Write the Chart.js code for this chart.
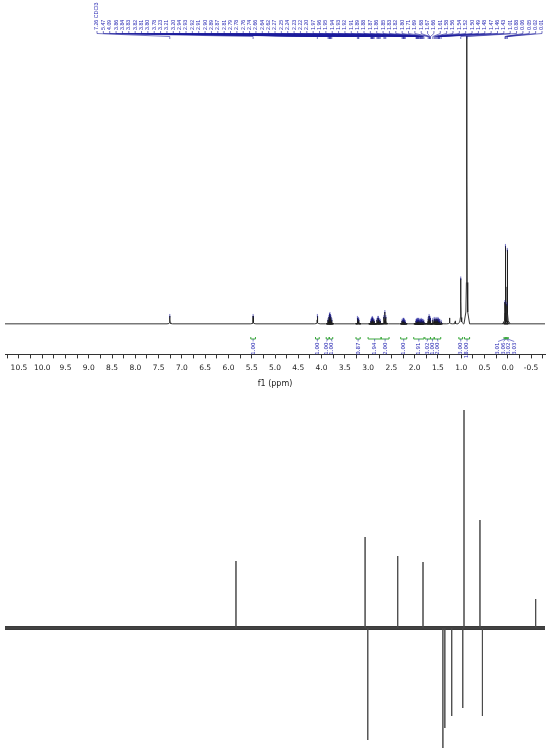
<!DOCTYPE html>
<html>
<head>
<meta charset="utf-8">
<script src="https://cdn.jsdelivr.net/npm/chart.js@4.4.1/dist/chart.umd.min.js"></script>
<style>
  body { margin: 0; background: #fff; }
  #wrap { position: relative; width: 550px; height: 755px; }
  #protonBox { position: absolute; left: 0; top: 0; width: 550px; height: 395px; }
  #carbonBox { position: absolute; left: 0; top: 395px; width: 550px; height: 360px; }
</style>
</head>
<body>
<div id="wrap">
  <div id="protonBox"><canvas id="chartProton"></canvas></div>
  <div id="carbonBox"><canvas id="chartCarbon"></canvas></div>
</div>
<script>
// 1H spectrum: picked peaks (ppm), their label text and height
const hPeakPpm = [7.26, 5.47, 4.09,
  3.86, 3.84, 3.83, 3.82, 3.81, 3.80, 3.78,
  3.23, 3.21, 3.20,
  2.94, 2.93, 2.92, 2.91, 2.90, 2.89, 2.87,
  2.81, 2.79, 2.78, 2.76, 2.74,
  2.66, 2.64, 2.62,
  2.27, 2.25, 2.24, 2.23, 2.22, 2.20,
  1.97, 1.96, 1.95, 1.94, 1.93, 1.92, 1.91, 1.89, 1.88, 1.87, 1.86, 1.85, 1.83, 1.82, 1.80,
  1.71, 1.69, 1.68, 1.67, 1.66,
  1.61, 1.58, 1.56, 1.54, 1.52, 1.50, 1.49, 1.48, 1.47, 1.46, 1.43,
  1.01, 0.88, 0.06, 0.05, 0.02, 0.01];
const hPeakHeight = [8, 8, 8,
  4, 7, 9, 10, 8, 7, 4,
  6, 5, 4,
  3, 4, 5, 6, 5, 4, 3,
  4, 6, 6, 4, 3,
  7, 12, 7,
  3, 4, 4, 4, 3, 2,
  3, 3, 4, 4, 3, 4, 4, 3, 3, 3, 4, 3, 3, 3, 2,
  5, 8, 6, 6, 4,
  4, 5, 4, 5, 4, 5, 4, 3, 3, 3, 2,
  46, 300, 22, 79, 20, 75];
const hPeakLabel = hPeakPpm.map((p, i) => i === 0 ? '7.26 CDCl3' : p.toFixed(2));
// small unpicked peaks
const hOtherPpm = [1.25, 1.13];
const hOtherHeight = [6, 3];

// integrals
const intFrom  = [5.52, 4.13, 3.90, 3.83, 3.26, 3.00, 2.72, 2.30, 2.02, 1.78, 1.66, 1.58, 1.05, 0.93, 0.08, 0.055, 0.035, 0.015];
const intTo    = [5.42, 4.05, 3.84, 3.76, 3.17, 2.72, 2.55, 2.17, 1.80, 1.66, 1.58, 1.44, 0.97, 0.82, 0.055, 0.035, 0.015, -0.01];
const intValue = ['1.00', '1.00', '1.00', '1.00', '0.87', '1.94', '2.00', '1.00', '1.91', '3.02', '1.00', '2.00', '3.00', '18.00', '3.01', '3.06', '3.02', '3.03'];

// axis tick labels (ppm)
const axisLabels = [10.5, 10.0, 9.5, 9.0, 8.5, 8.0, 7.5, 7.0, 6.5, 6.0, 5.5, 5.0, 4.5, 4.0, 3.5, 3.0, 2.5, 2.0, 1.5, 1.0, 0.5, 0.0, -0.5];

// 13C DEPT spectrum: peak positions (ppm) and signed heights
const cPpm    = [115.9, 63.3, 62.2, 50.0, 39.7, 31.6, 30.8, 28.0, 23.5, 23.0, 16.5, 15.5, -6.2];
const cHeight = [67, 91, -112, 72, 66, -120, -100, -88, -80, 218, 108, -88, 29];

// line shape template (ppm offset, fraction of height)
const lineShape = [[0.06, 0], [0.02, 0.04], [0.008, 0.14], [0.003, 0.5], [0, 1],
  [-0.003, 0.5], [-0.008, 0.14], [-0.02, 0.04], [-0.06, 0]];

const blue = '#2a2ab4';
const green = '#3aa83a';

function protonSpectrum() {
  const peaks = hPeakPpm.map((p, i) => [p, hPeakHeight[i]])
    .concat(hOtherPpm.map((p, i) => [p, hOtherHeight[i]]))
    .sort((a, b) => b[0] - a[0]);
  const pts = [{ x: 10.8, y: 0 }];
  peaks.forEach(([p, h]) => {
    lineShape.forEach(([d, f]) => pts.push({ x: p + d, y: h * f }));
  });
  pts.push({ x: -0.8, y: 0 });
  return pts;
}

function carbonSpikes() {
  const pts = [{ x: 210, y: 0 }];
  cPpm.forEach((p, i) => {
    pts.push({ x: p, y: 0 }, { x: p, y: cHeight[i] }, { x: p, y: 0 });
  });
  pts.push({ x: -10, y: 0 });
  return pts;
}

function vText(ctx, str, x, y, align) {
  ctx.save();
  ctx.translate(x, y);
  ctx.rotate(-Math.PI / 2);
  ctx.textAlign = align;
  ctx.textBaseline = 'middle';
  ctx.fillText(str, 0, 0);
  ctx.restore();
}

const peakLabels = {
  id: 'peakLabels',
  afterDatasetsDraw(chart) {
    const { ctx, scales: { x, y }, chartArea } = chart;
    const n = hPeakPpm.length;
    const left = 97, right = 542;
    const step = (right - left) / (n - 1);
    ctx.save();
    ctx.font = '5.3px "Liberation Sans"';
    ctx.fillStyle = blue;
    ctx.strokeStyle = '#1c1c9c';
    ctx.lineWidth = 0.6;
    for (let i = 0; i < n; i++) {
      const lx = left + i * step;
      const px = x.getPixelForValue(hPeakPpm[i]);
      vText(ctx, hPeakLabel[i], lx, 30, 'left');
      ctx.beginPath();
      ctx.moveTo(lx, 31);
      ctx.lineTo(lx, 33.5);
      ctx.lineTo(px, 36.5);
      ctx.lineTo(px, 39);
      ctx.stroke();
      const ty = y.getPixelForValue(hPeakHeight[i]);
      if (ty > chartArea.top + 2) {
        ctx.beginPath();
        ctx.moveTo(px, ty - 2);
        ctx.lineTo(px, ty + 1.5);
        ctx.stroke();
      }
    }
    ctx.restore();
  }
};

const integrals = {
  id: 'integrals',
  afterDatasetsDraw(chart) {
    const { ctx, scales: { x } } = chart;
    const n = intValue.length;
    const x1 = intFrom.map(v => x.getPixelForValue(v));
    const x2 = intTo.map(v => x.getPixelForValue(v));
    const cx = x1.map((v, i) => (v + x2[i]) / 2);
    // spread labels so they do not overlap
    const pos = cx.slice();
    const gap = 5.4;
    for (let k = 0; k < 200; k++) {
      for (let i = 0; i < n - 1; i++) {
        const d = pos[i + 1] - pos[i];
        if (d < gap) {
          const s = (gap - d) / 2;
          pos[i] -= s;
          pos[i + 1] += s;
        }
      }
    }
    const yb = 339;
    ctx.save();
    ctx.strokeStyle = green;
    ctx.lineWidth = 1;
    for (let i = 0; i < n; i++) {
      ctx.beginPath();
      ctx.moveTo(x1[i], yb - 2);
      ctx.lineTo(x1[i], yb);
      ctx.lineTo(x2[i], yb);
      ctx.lineTo(x2[i], yb - 2);
      ctx.stroke();
    }
    ctx.strokeStyle = '#2a2ab4';
    ctx.lineWidth = 0.6;
    ctx.fillStyle = blue;
    ctx.font = '5.5px "DejaVu Sans"';
    for (let i = 0; i < n; i++) {
      ctx.beginPath();
      ctx.moveTo(cx[i], yb);
      ctx.lineTo(pos[i], yb + 2.5);
      ctx.stroke();
      vText(ctx, intValue[i], pos[i], yb + 3.5, 'right');
    }
    ctx.restore();
  }
};

new Chart(document.getElementById('chartProton'), {
  type: 'line',
  data: {
    datasets: [{
      data: protonSpectrum(),
      borderColor: '#1e1e1e',
      borderWidth: 0.9,
      pointRadius: 0,
      tension: 0
    }]
  },
  options: {
    responsive: true,
    maintainAspectRatio: false,
    animation: false,
    events: [],
    layout: { padding: { top: 36, left: 5, right: 5, bottom: 6 } },
    plugins: { legend: { display: false }, tooltip: { enabled: false } },
    scales: {
      x: {
        type: 'linear',
        reverse: true,
        min: -0.8,
        max: 10.8,
        afterBuildTicks(scale) {
          const vals = [];
          axisLabels.forEach(v => { vals.push(v); vals.push(v - 0.25); });
          vals.push(10.75);
          scale.ticks = vals.sort((a, b) => b - a).map(v => ({ value: v }));
        },
        grid: { drawOnChartArea: false, drawTicks: true, tickLength: 4, color: '#333' },
        border: { display: true, color: '#333', width: 1 },
        ticks: {
          autoSkip: false,
          maxRotation: 0,
          padding: 5,
          color: '#222',
          font: { family: 'DejaVu Sans', size: 7.5 },
          callback(v) {
            return axisLabels.some(a => Math.abs(a - v) < 1e-6) ? v.toFixed(1) : '';
          }
        },
        title: {
          display: true,
          text: 'f1 (ppm)',
          color: '#222',
          font: { family: 'DejaVu Sans', size: 8 },
          padding: { top: 2, bottom: 0 }
        }
      },
      y: { display: false, min: -31, max: 292 }
    }
  },
  plugins: [peakLabels, integrals]
});

new Chart(document.getElementById('chartCarbon'), {
  type: 'line',
  data: {
    datasets: [{
      data: carbonSpikes(),
      borderColor: '#4a4a4a',
      borderWidth: 1,
      pointRadius: 0,
      tension: 0,
      order: 0
    }, {
      data: [{ x: 210, y: 0 }, { x: -10, y: 0 }],
      borderColor: 'rgba(25,25,25,0.85)',
      borderWidth: 4,
      pointRadius: 0,
      order: 1
    }]
  },
  options: {
    responsive: true,
    maintainAspectRatio: false,
    animation: false,
    events: [],
    layout: { padding: { left: 5, right: 5, top: 0, bottom: 0 } },
    plugins: { legend: { display: false }, tooltip: { enabled: false } },
    scales: {
      x: { type: 'linear', reverse: true, min: -10, max: 210, display: false },
      y: { display: false, min: -127, max: 233 }
    }
  }
});
</script>
</body>
</html>
